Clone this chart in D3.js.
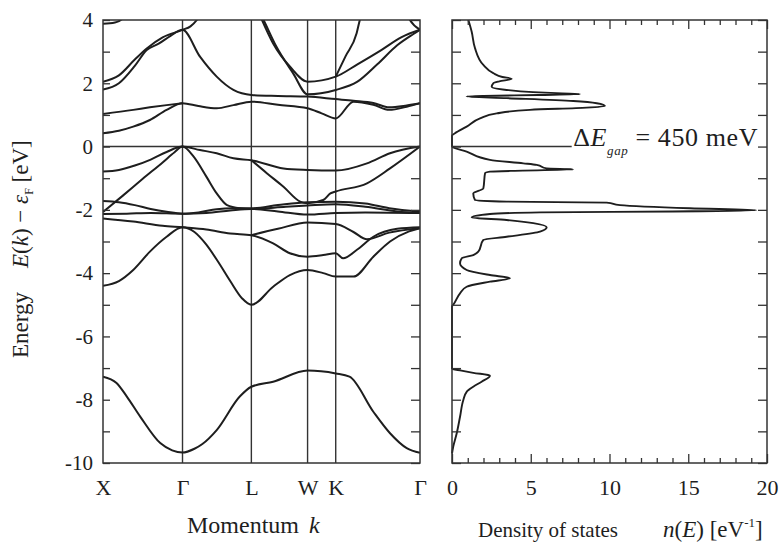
<!DOCTYPE html>
<html>
<head>
<meta charset="utf-8">
<style>
  body { margin: 0; background: #fff; }
</style>
</head>
<body>
<svg width="784" height="544"></svg>
<script src="https://d3js.org/d3.v7.min.js"></script>
<script>
// symmetry points along the path (units of 2pi/a)
var kSym = [0, 1, 1.866, 2.573, 2.927, 3.987];
var kLabels = ["X", "\u0393", "L", "W", "K", "\u0393"];
var eTicks = d3.range(-10, 5, 1);
var nMajor = [0, 5, 10, 15, 20];
var nMinor = d3.range(0, 21, 1).filter(function(d) { return d % 5 !== 0; });

// bands, [k, E(eV)]
var band1 = [[0,-7.27],[0.17,-7.47],[0.3,-7.9],[0.47,-8.54],[0.72,-9.37],[0.87,-9.6],[1,-9.67],[1.15,-9.55],[1.25,-9.4],[1.43,-8.96],[1.72,-7.9],[1.866,-7.59],[2.14,-7.43],[2.573,-7.08],[2.927,-7.17],[3.1,-7.27],[3.4,-8.38],[3.61,-9.06],[3.82,-9.53],[3.987,-9.68]];
var band2 = [[0,-4.4],[0.2,-4.25],[0.38,-3.9],[0.59,-3.32],[0.8,-2.85],[1,-2.55],[1.15,-2.7],[1.3,-3.1],[1.45,-3.65],[1.6,-4.25],[1.75,-4.8],[1.866,-5.0],[2.14,-4.43],[2.35,-4.06],[2.573,-3.9],[2.77,-4.0],[2.927,-4.11],[3.15,-4.11],[3.4,-3.48],[3.61,-3.0],[3.85,-2.68],[3.987,-2.58]];
var band3 = [[0,-2.27],[0.38,-2.37],[0.75,-2.5],[1,-2.55],[1.3,-2.62],[1.6,-2.75],[1.866,-2.8],[2.14,-3.06],[2.35,-3.37],[2.573,-3.48],[2.77,-3.43],[2.927,-3.37],[3.02,-3.53],[3.19,-3.27],[3.4,-2.85],[3.7,-2.6],[3.987,-2.55]];
var band4 = [[1.866,-2.8],[2.2,-2.6],[2.573,-2.4],[2.927,-2.45],[3.15,-2.7],[3.32,-2.93],[3.6,-2.72],[3.987,-2.58]];
var band5 = [[0,-1.72],[0.2,-1.76],[0.4,-1.85],[0.6,-1.97],[0.8,-2.06],[1,-2.12],[1.2,-2.08],[1.43,-1.98],[1.64,-1.95],[1.866,-1.95],[2.2,-1.85],[2.573,-1.76],[2.927,-1.74],[3.3,-1.8],[3.6,-1.95],[3.987,-2.06]];
var band6 = [[0,-2.13],[0.3,-2.12],[0.6,-2.1],[1,-2.12],[1.3,-2.1],[1.6,-2.02],[1.866,-1.97],[2.2,-2.05],[2.573,-2.15],[2.927,-2.1],[3.3,-2.08],[3.987,-2.1]];
var band7 = [[0,-2.07],[0.25,-1.55],[0.5,-1.02],[0.75,-0.5],[0.9,-0.18],[1,0],[1.14,-0.32],[1.3,-0.95],[1.43,-1.48],[1.56,-1.85],[1.72,-1.95],[1.866,-1.97],[2.3,-1.9],[2.573,-1.86],[2.927,-1.82],[3.3,-1.9],[3.7,-2.05],[3.987,-2.1]];
var band8 = [[0,-0.79],[0.2,-0.74],[0.4,-0.6],[0.6,-0.41],[0.8,-0.17],[1,0],[1.22,-0.11],[1.43,-0.21],[1.64,-0.37],[1.866,-0.43],[2.27,-0.69],[2.573,-0.74],[2.927,-0.76],[3.32,-0.53],[3.61,-0.21],[3.987,0]];
var band9 = [[1.866,-0.43],[2.06,-0.84],[2.27,-1.27],[2.48,-1.74],[2.573,-1.79],[2.77,-1.69],[2.86,-1.48],[2.927,-1.42],[3.32,-1.16],[3.61,-0.69],[3.987,0]];
var band10 = [[0,0.42],[0.2,0.5],[0.38,0.63],[0.59,0.84],[0.8,1.16],[1,1.37],[1.2,1.28],[1.43,1.21],[1.64,1.31],[1.866,1.42],[2.2,1.32],[2.573,1.21],[2.75,1.05],[2.927,0.89],[3.15,1.42],[3.4,1.32],[3.6,1.16],[3.82,1.26],[3.987,1.37]];
var band11 = [[0,1.03],[0.38,1.16],[0.59,1.24],[0.8,1.31],[1,1.37]];
var band12 = [[0,1.8],[0.2,2.0],[0.4,2.55],[0.55,3.05],[0.7,3.25],[0.85,3.5],[1,3.69],[1.22,2.84],[1.43,2.21],[1.64,1.79],[1.866,1.63],[2.2,1.6],[2.573,1.58],[2.927,1.5],[3.15,1.45],[3.4,1.38],[3.6,1.24],[3.82,1.3],[3.987,1.37]];
var band13 = [[0,2.05],[0.2,2.25],[0.4,2.75],[0.55,3.1],[0.75,3.45],[1,3.69],[1.1,3.8],[1.18,4.0],[1.25,4.3]];
var band14 = [[0,3.88],[0.15,3.92],[0.25,4.05],[0.3,4.2]];
var band15 = [[1.9,4.6],[2.02,4.0],[2.18,3.16],[2.39,2.32],[2.573,1.65],[2.927,1.79],[3.2,2.05],[3.45,2.6],[3.7,3.2],[3.9,3.55],[3.987,3.69]];
var band16 = [[1.9,4.6],[2.0,4.0],[2.14,3.26],[2.35,2.53],[2.573,2.05],[2.927,2.21],[3.2,2.6],[3.5,3.05],[3.75,3.45],[3.987,3.69]];
var band17 = [[2.927,2.21],[3.05,2.85],[3.19,3.58],[3.23,4.0],[3.28,4.4]];
var band18 = [[3.8,4.3],[3.86,4.0],[3.987,3.69]];
var bands = [band1, band2, band3, band4, band5, band6, band7, band8, band9,
             band10, band11, band12, band13, band14, band15, band16, band17, band18];

// density of states n(E), read top to bottom
var dosE = [4.0,3.63,3.11,2.58,2.32,2.2,2.14,2.06,2.0,1.89,1.79,1.72,1.68,1.66,1.63,1.6,1.58,1.53,1.44,1.37,1.28,1.23,1.16,1.05,0.89,0.63,0.42,0.35,0,
            -0.16,-0.42,-0.53,-0.58,-0.69,-0.72,-0.76,-0.79,-0.84,-1.32,-1.48,-1.69,-1.74,-1.77,-1.85,-1.95,-2.01,-2.05,-2.08,-2.13,-2.24,-2.32,-2.42,-2.55,-2.69,-2.85,-2.95,
            -3.32,-3.43,-3.53,-3.69,-3.9,-4.06,-4.16,-4.27,-4.43,-4.64,-5.0,-5.05,-7.02,-7.08,-7.15,-7.24,-7.43,-7.59,-7.75,-8.01,-8.54,-9.06,-9.48,-9.7];
var dosN = [1.04,1.25,1.46,1.99,2.62,3.2,3.79,3.0,2.62,2.52,3.47,5.15,7.0,8.13,5.5,2.0,0.93,3.47,7.7,9.19,9.71,8.55,4.95,2.84,1.78,0.93,0.19,0,0,
            0.93,2.41,4.53,5.38,6.01,7.7,4.5,2.41,2.1,1.99,1.35,1.46,3.47,9.82,10.67,15.1,19.3,14.0,5.6,2.41,1.25,3.47,5.16,6.01,5.59,3.47,1.99,
            1.67,1.35,0.62,0.51,0.93,2.41,3.68,2.41,0.93,0.51,0.08,0,0,0.6,1.35,2.41,1.88,1.35,0.93,0.72,0.51,0.3,0.08,0];
var gapText = "450 meV";

var serif = "'Liberation Serif', 'Times New Roman', serif";
var svg = d3.select("svg").style("font-family", serif);
var ink = "#1e1e1e";

var y = d3.scaleLinear().domain([-10, 4]).range([463, 20]);
var kx = d3.scaleLinear().domain([0, 3.987]).range([103, 420]);
var nx = d3.scaleLinear().domain([0, 20]).range([452, 767]);

svg.append("defs").append("clipPath").attr("id", "clipL")
  .append("rect").attr("x", kx(0)).attr("y", y(4))
  .attr("width", kx(3.987) - kx(0)).attr("height", y(-10) - y(4));

// ---- left panel: band structure
var left = svg.append("g");

left.selectAll(".sym").data(kSym.slice(1, 5)).enter().append("line")
  .attr("x1", function(d) { return kx(d); }).attr("x2", function(d) { return kx(d); })
  .attr("y1", y(4)).attr("y2", y(-10))
  .attr("stroke", "#333").attr("stroke-width", 1.4);

left.append("line")
  .attr("x1", kx(0)).attr("x2", kx(3.987)).attr("y1", y(0)).attr("y2", y(0))
  .attr("stroke", "#333").attr("stroke-width", 1.4);

var bandLine = d3.line()
  .x(function(d) { return kx(d[0]); })
  .y(function(d) { return y(d[1]); })
  .curve(d3.curveMonotoneX);

left.append("g").attr("clip-path", "url(#clipL)")
  .selectAll("path").data(bands).enter().append("path")
  .attr("d", bandLine)
  .attr("fill", "none").attr("stroke", ink).attr("stroke-width", 2);

var yAxisL = left.append("g").attr("transform", "translate(" + kx(0) + ",0)")
  .call(d3.axisLeft(y).tickValues(eTicks)
    .tickFormat(function(d) { return d % 2 === 0 ? d : ""; })
    .tickSizeInner(-7).tickSizeOuter(0).tickPadding(10));
var yAxisR = left.append("g").attr("transform", "translate(" + kx(3.987) + ",0)")
  .call(d3.axisRight(y).tickValues(eTicks).tickFormat("").tickSizeInner(-9).tickSizeOuter(0));
var kAxis = left.append("g").attr("transform", "translate(0," + y(-10) + ")")
  .call(d3.axisBottom(kx).tickValues(kSym)
    .tickFormat(function(d, i) { return kLabels[i]; })
    .tickSize(0).tickPadding(16));

[yAxisL, yAxisR, kAxis].forEach(function(g) {
  g.attr("font-family", null).attr("font-size", null);
  g.select(".domain").remove();
  g.selectAll("line").attr("stroke", "#333").attr("stroke-width", 1.3);
  g.selectAll("text").attr("fill", ink).style("font-family", serif);
});
yAxisL.selectAll("text").style("font-size", "21px");
kAxis.selectAll("text").style("font-size", "22px");

left.append("rect")
  .attr("x", kx(0)).attr("y", y(4))
  .attr("width", kx(3.987) - kx(0)).attr("height", y(-10) - y(4))
  .attr("fill", "none").attr("stroke", "#333").attr("stroke-width", 1.5);

// ---- right panel: density of states
var right = svg.append("g");

right.append("line")
  .attr("x1", nx(0)).attr("x2", nx(7.6)).attr("y1", y(0)).attr("y2", y(0))
  .attr("stroke", "#333").attr("stroke-width", 1.4);

var dos = dosE.map(function(e, i) { return {e: e, n: dosN[i]}; });
right.append("path").datum(dos)
  .attr("d", d3.line()
    .x(function(d) { return nx(d.n); })
    .y(function(d) { return y(d.e); })
    .curve(d3.curveMonotoneY))
  .attr("fill", "none").attr("stroke", ink).attr("stroke-width", 1.9);

var axes = [];
axes.push(right.append("g").attr("transform", "translate(" + nx(0) + ",0)")
  .call(d3.axisLeft(y).tickValues(eTicks).tickFormat("").tickSizeInner(-9).tickSizeOuter(0)));
axes.push(right.append("g").attr("transform", "translate(" + nx(20) + ",0)")
  .call(d3.axisRight(y).tickValues(eTicks).tickFormat("").tickSizeInner(-9).tickSizeOuter(0)));
axes.push(right.append("g").attr("transform", "translate(0," + y(-10) + ")")
  .call(d3.axisBottom(nx).tickValues(nMinor).tickFormat("").tickSizeInner(-5).tickSizeOuter(0)));
axes.push(right.append("g").attr("transform", "translate(0," + y(4) + ")")
  .call(d3.axisTop(nx).tickValues(nMinor).tickFormat("").tickSizeInner(-5).tickSizeOuter(0)));
axes.push(right.append("g").attr("transform", "translate(0," + y(4) + ")")
  .call(d3.axisTop(nx).tickValues(nMajor).tickFormat("").tickSizeInner(-9).tickSizeOuter(0)));
var nAxis = right.append("g").attr("transform", "translate(0," + y(-10) + ")")
  .call(d3.axisBottom(nx).tickValues(nMajor).tickSizeInner(-9).tickSizeOuter(0).tickPadding(16));
axes.push(nAxis);
axes.forEach(function(g) {
  g.attr("font-family", null).attr("font-size", null);
  g.select(".domain").remove();
  g.selectAll("line").attr("stroke", "#333").attr("stroke-width", 1.3);
});
nAxis.selectAll("text").attr("fill", ink)
  .style("font-family", serif).style("font-size", "22px");

right.append("rect")
  .attr("x", nx(0)).attr("y", y(4))
  .attr("width", nx(20) - nx(0)).attr("height", y(-10) - y(4))
  .attr("fill", "none").attr("stroke", "#333").attr("stroke-width", 1.5);

// gap annotation
var ann = right.append("text").attr("x", nx(7.7)).attr("y", y(0) - 1)
  .attr("fill", ink).style("font-family", serif).style("font-size", "26px")
  .style("letter-spacing", "0.6px");
ann.append("tspan").text("\u0394");
ann.append("tspan").style("font-style", "italic").text("E");
ann.append("tspan").attr("dy", 9).style("font-size", "13px").style("font-style", "italic").text("gap");
ann.append("tspan").attr("dy", -9).text(" = " + gapText);

// ---- axis titles
var yt = svg.append("text")
  .attr("transform", "translate(28,0) rotate(-90)")
  .attr("fill", ink).style("font-family", serif).style("font-size", "23px");
yt.append("tspan").attr("x", -358).text("Energy");
yt.append("tspan").attr("x", -268).style("font-style", "italic").text("E");
yt.append("tspan").text("(");
yt.append("tspan").style("font-style", "italic").text("k");
yt.append("tspan").text(") \u2212 ");
yt.append("tspan").style("font-style", "italic").text("\u03b5");
yt.append("tspan").attr("dy", 5).style("font-size", "12px").text("F");
yt.append("tspan").attr("dy", -5).text(" [eV]");

var xt = svg.append("text").attr("x", 187).attr("y", 533).attr("fill", ink)
  .style("font-family", serif).style("font-size", "24px");
xt.append("tspan").text("Momentum");
xt.append("tspan").attr("dx", 10).style("font-style", "italic").text("k");

var dt = svg.append("text").attr("x", 478).attr("y", 537).attr("fill", ink)
  .style("font-family", serif).style("font-size", "21px");
dt.append("tspan").text("Density of states");
dt.append("tspan").attr("x", 663).style("font-size", "23px").style("font-style", "italic").text("n");
dt.append("tspan").style("font-size", "23px").text("(");
dt.append("tspan").style("font-size", "23px").style("font-style", "italic").text("E");
dt.append("tspan").style("font-size", "23px").text(") [eV");
dt.append("tspan").attr("dy", -10).style("font-size", "13px").text("-1");
dt.append("tspan").attr("dy", 10).style("font-size", "23px").text("]");
</script>
</body>
</html>
